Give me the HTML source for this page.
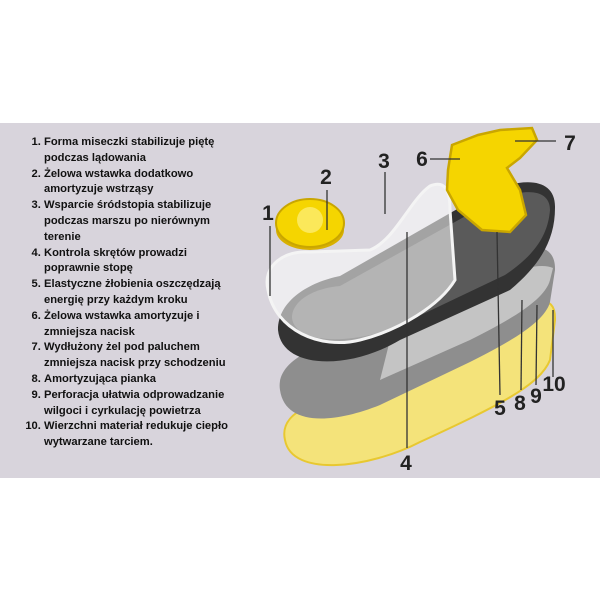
<!DOCTYPE html>
<html><head><meta charset="utf-8"><style>
body{margin:0;width:600px;height:600px;background:#fff;position:relative;overflow:hidden;font-family:"Liberation Sans",sans-serif}
.panel{position:absolute;left:0;top:123px;width:600px;height:355px;background:#d8d4dc}
ol{position:absolute;left:8px;top:135px;margin:0;padding:0 0 0 36px;width:192px;font-size:11.2px;font-weight:bold;line-height:15.8px;color:#111}
li{padding-left:0}
svg{position:absolute;left:0;top:0}
</style></head><body>
<div class="panel"></div>
<ol>
<li>Forma miseczki stabilizuje piętę podczas lądowania</li>
<li>Żelowa wstawka dodatkowo amortyzuje wstrząsy</li>
<li>Wsparcie śródstopia stabilizuje podczas marszu po nierównym terenie</li>
<li>Kontrola skrętów prowadzi poprawnie stopę</li>
<li>Elastyczne żłobienia oszczędzają energię przy każdym kroku</li>
<li>Żelowa wstawka amortyzuje i zmniejsza nacisk</li>
<li>Wydłużony żel pod paluchem zmniejsza nacisk przy schodzeniu</li>
<li>Amortyzująca pianka</li>
<li>Perforacja ułatwia odprowadzanie wilgoci i cyrkulację powietrza</li>
<li>Wierzchni materiał redukuje ciepło wytwarzane tarciem.</li>
</ol>
<svg width="600" height="600">
<path d="M285,440 C278,410 320,398 380,388 L500,328 C530,300 556,290 555,320 L550,360 C540,385 500,405 420,442 C370,468 292,478 285,440Z" fill="#f4e37a" stroke="#e8c830" stroke-width="2"/>
<path d="M280,390 C275,360 320,342 370,332 L490,262 C525,242 556,240 555,270 L550,302 C545,322 510,342 470,362 L380,405 C330,425 285,425 280,390Z" fill="#8e8e8e"/>
<path d="M380,380 L470,340 C510,320 545,300 550,280 L553,268 C540,262 510,270 490,285 L390,340Z" fill="#c4c4c4"/>
<path d="M278,330 C278,300 310,282 340,276 L480,196 C520,176 556,176 555,208 C555,240 540,265 510,290 L400,340 C350,370 282,370 278,330Z" fill="#333"/>
<path d="M292,318 C292,300 315,288 340,286 L480,208 C515,188 550,185 550,210 C548,235 535,255 505,275 L400,325 C355,345 295,345 292,318Z" fill="#5a5a5a"/>
<path d="M268,290 C262,265 285,250 310,252 L370,250 C395,240 410,200 430,186 C445,180 450,190 450,210 L455,280 C440,305 400,330 360,340 C320,350 275,330 268,290Z" fill="#fff" fill-opacity="0.55" stroke="#f4f4f4" stroke-width="3"/>
<ellipse cx="310" cy="230" rx="34" ry="20" fill="#d8b000"/>
<ellipse cx="310" cy="223" rx="34" ry="24" fill="#f5d500" stroke="#c9a600" stroke-width="2"/>
<circle cx="310" cy="220" r="13" fill="#fbe85a"/>
<path d="M448,170 L452,145 L478,135 L500,130 L532,128 L537,140 L520,158 L507,168 L520,190 L526,215 L510,232 L482,230 L458,210 L447,190Z" fill="#f5d500" stroke="#c9a600" stroke-width="2.5"/>
<g stroke="#333" stroke-width="1.3">
<line x1="270" y1="226" x2="270" y2="296"/><line x1="327" y1="190" x2="327" y2="230"/>
<line x1="385" y1="172" x2="385" y2="214"/><line x1="407" y1="448" x2="407" y2="232"/>
<line x1="500" y1="395" x2="497" y2="232"/><line x1="521" y1="390" x2="522" y2="300"/>
<line x1="536" y1="385" x2="537" y2="305"/><line x1="553" y1="377" x2="553" y2="310"/>
<line x1="430" y1="159" x2="460" y2="159"/><line x1="556" y1="141" x2="515" y2="141"/>
</g>
<g font-family="Liberation Sans,sans-serif" font-weight="bold" font-size="21" fill="#222" text-anchor="middle">
<text x="268" y="220">1</text><text x="326" y="184">2</text><text x="384" y="168">3</text>
<text x="422" y="166">6</text><text x="570" y="150">7</text><text x="406" y="470">4</text>
<text x="500" y="415">5</text><text x="520" y="410">8</text><text x="536" y="403">9</text><text x="554" y="391">10</text>
</g>
</svg>
</body></html>
